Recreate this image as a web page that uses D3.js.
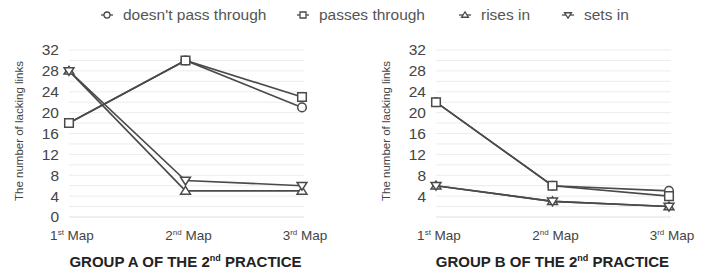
<!DOCTYPE html>
<html>
<head>
<meta charset="utf-8">
<script src="https://cdn.jsdelivr.net/npm/d3@7"></script>
<style>
body { margin: 0; background: #fff; }
svg { display: block; font-family: "Liberation Sans", Arial, Helvetica, sans-serif; }
</style>
</head>
<body>
<div id="chart"></div>
<script>
// maps on the x axis (number + ordinal suffix)
const maps = [['1', 'st'], ['2', 'nd'], ['3', 'rd']];
const seriesNames = ["doesn't pass through", 'passes through', 'rises in', 'sets in'];
const seriesShapes = ['circle', 'square', 'triUp', 'triDown'];

// values, one array per series
const groupA = {
	title: ['GROUP A OF THE 2', 'nd', ' PRACTICE'],
	doesntPass: [18, 30, 21],
	passes: [18, 30, 23],
	risesIn: [28, 5, 5],
	setsIn: [28, 7, 6]
};
const groupB = {
	title: ['GROUP B OF THE 2', 'nd', ' PRACTICE'],
	doesntPass: [22, 6, 5],
	passes: [22, 6, 4],
	risesIn: [6, 3, 2],
	setsIn: [6, 3, 2]
};
const yTicksA = [0, 4, 8, 12, 16, 20, 24, 28, 32];
const yTicksB = [4, 8, 12, 16, 20, 24, 28, 32];

const width = 717, height = 276;
const lineColor = '#4a4a4a';
const textColor = '#444';

const svg = d3.select('#chart').append('svg')
	.attr('width', width)
	.attr('height', height);

function markerPath(shape, s) {
	// s = half size
	switch (shape) {
	case 'circle':
		return d3.symbol(d3.symbolCircle, Math.PI * s * s)();
	case 'square':
		return `M${-s},${-s}H${s}V${s}H${-s}Z`;
	case 'triUp':
		return `M0,${-s * 1.05}L${s * 1.15},${s * 0.75}L${-s * 1.15},${s * 0.75}Z`;
	case 'triDown':
		return `M0,${s * 1.05}L${s * 1.15},${-s * 0.75}L${-s * 1.15},${-s * 0.75}Z`;
	}
}

function drawPanel(group, opts) {
	const y = d3.scaleLinear().domain([0, 32]).range([opts.bottom, 50]);
	const x = d3.scalePoint().domain(maps.map(m => m[0])).range([opts.left, opts.right]);
	const g = svg.append('g');

	// grid every 2 units
	g.append('g').selectAll('line')
		.data(d3.range(0, 33, 2))
		.join('line')
		.attr('x1', opts.left)
		.attr('x2', opts.right + 2)
		.attr('y1', d => y(d))
		.attr('y2', d => y(d))
		.attr('stroke', d => d === 0 ? '#e0e0e0' : '#ececec')
		.attr('stroke-width', 1);

	// y tick labels
	g.append('g').selectAll('text')
		.data(opts.yTicks)
		.join('text')
		.attr('x', opts.left - 10)
		.attr('y', d => y(d))
		.attr('dy', '0.35em')
		.attr('text-anchor', 'end')
		.attr('font-size', 15.5)
		.attr('fill', textColor)
		.text(d => d);

	// y axis title
	g.append('text')
		.attr('transform', `translate(${opts.yTitleX},${131}) rotate(-90)`)
		.attr('text-anchor', 'middle')
		.attr('font-size', 11.5)
		.attr('fill', textColor)
		.text('The number of lacking links');

	// x tick labels
	const xl = g.append('g').selectAll('text')
		.data(maps)
		.join('text')
		.attr('x', d => x(d[0]) + 3)
		.attr('y', 240)
		.attr('text-anchor', 'middle')
		.attr('font-size', 13.5)
		.attr('fill', textColor);
	xl.append('tspan').text(d => d[0]);
	xl.append('tspan').attr('font-size', 8).attr('dy', -5).text(d => d[1]);
	xl.append('tspan').attr('dy', 5).text(' Map');

	// title
	const t = g.append('text')
		.attr('x', (opts.left + opts.right) / 2)
		.attr('y', 267)
		.attr('text-anchor', 'middle')
		.attr('font-size', 15)
		.attr('font-weight', 'bold')
		.attr('fill', '#222');
	t.append('tspan').text(group.title[0]);
	t.append('tspan').attr('font-size', 9).attr('dy', -6).text(group.title[1]);
	t.append('tspan').attr('dy', 6).text(group.title[2]);

	const series = [group.doesntPass, group.passes, group.risesIn, group.setsIn];
	const line = d3.line()
		.x((d, i) => x(maps[i][0]))
		.y(d => y(d));

	g.append('g').selectAll('path')
		.data(series)
		.join('path')
		.attr('d', line)
		.attr('fill', 'none')
		.attr('stroke', lineColor)
		.attr('stroke-width', 1.6);

	series.forEach((vals, si) => {
		g.append('g').selectAll('path')
			.data(vals)
			.join('path')
			.attr('transform', (d, i) => `translate(${x(maps[i][0])},${y(d)})`)
			.attr('d', markerPath(seriesShapes[si], 4.3))
			.attr('fill', '#fff')
			.attr('stroke', lineColor)
			.attr('stroke-width', 1.5);
	});
}

drawPanel(groupA, {left: 69, right: 302, bottom: 217, yTicks: yTicksA, yTitleX: 23});
drawPanel(groupB, {left: 436, right: 669, bottom: 217, yTicks: yTicksB, yTitleX: 390});

// legend
const legendX = [107, 303, 465, 568];
const legend = svg.append('g').selectAll('g')
	.data(seriesNames)
	.join('g')
	.attr('transform', (d, i) => `translate(${legendX[i]},15)`);
legend.append('line')
	.attr('x1', -6).attr('x2', 6)
	.attr('stroke', lineColor)
	.attr('stroke-width', 1.3);
legend.append('path')
	.attr('d', (d, i) => markerPath(seriesShapes[i], 3))
	.attr('fill', '#fff')
	.attr('stroke', lineColor)
	.attr('stroke-width', 1.3);
legend.append('text')
	.attr('x', 16)
	.attr('dy', '0.35em')
	.attr('font-size', 15.5)
	.attr('fill', '#555')
	.text(d => d);
</script>
</body>
</html>
